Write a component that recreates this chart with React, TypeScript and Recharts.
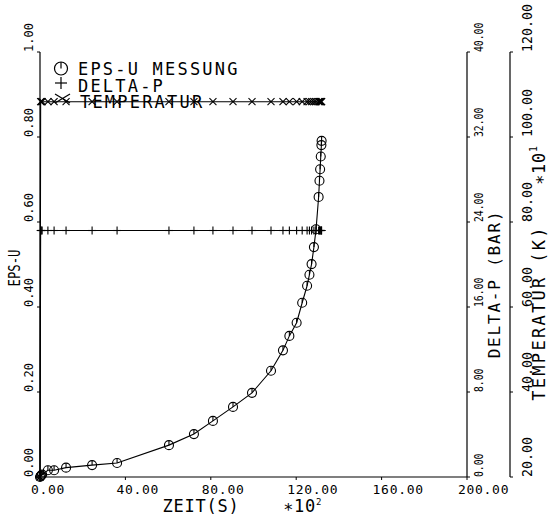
import React from 'react';
import { LineChart, Line, XAxis, YAxis } from 'recharts';

// Messzeitpunkte (x 10^2 s) und die drei Messreihen
const zeit = [0, 0.3, 0.6, 1.0, 3.7, 6.6, 12.2, 24.4, 36.1, 60.4, 72.1, 81.0, 90.4, 99.3, 108.2, 113.8, 116.8, 120.2, 122.8, 125.1, 126.2, 127.2, 128.3, 129.3, 130.5, 130.9, 131.2, 131.5, 131.8, 131.9];
const epsU = [0, 0.002, 0.004, 0.006, 0.016, 0.016, 0.022, 0.028, 0.033, 0.075, 0.101, 0.132, 0.165, 0.198, 0.25, 0.298, 0.332, 0.363, 0.41, 0.45, 0.476, 0.501, 0.541, 0.583, 0.659, 0.697, 0.724, 0.754, 0.781, 0.791];
const deltaP = [0, 23.2, 23.2, 23.2, 23.2, 23.2, 23.2, 23.2, 23.2, 23.2, 23.2, 23.2, 23.2, 23.2, 23.2, 23.2, 23.2, 23.2, 23.2, 23.2, 23.2, 23.2, 23.2, 23.2, 23.2, 23.2, 23.2, 23.2, 23.2, 23.2];
const temperatur = [20, 108.3, 108.3, 108.3, 108.3, 108.3, 108.3, 108.3, 108.3, 108.3, 108.3, 108.3, 108.3, 108.3, 108.3, 108.3, 108.3, 108.3, 108.3, 108.3, 108.3, 108.3, 108.3, 108.3, 108.3, 108.3, 108.3, 108.3, 108.3, 108.3];

const zeitTicks = [0, 40, 80, 120, 160, 200];
const epsTicks = [0, 0.2, 0.4, 0.6, 0.8, 1.0];
const dpTicks = [0, 8, 16, 24, 32, 40];
const tempTicks = [20, 40, 60, 80, 100, 120];

const data = zeit.map((t, i) => ({
  t,
  eps: epsU[i],
  dp: deltaP[i],
  temp: temperatur[i],
}));

const FONT = '"DejaVu Sans Mono", monospace';
const INK = '#000';

// Marker im Plotterstil
const Kreis = (p: any) => {
  if (p.cx == null || p.cy == null) return null;
  return (
    <g key={`k${p.index}`}>
      <circle cx={p.cx} cy={p.cy} r={4.5} fill="none" stroke={INK} strokeWidth={1.1} />
      <line x1={p.cx} y1={p.cy - 4.5} x2={p.cx} y2={p.cy} stroke={INK} strokeWidth={1.1} />
    </g>
  );
};

const Plus = (p: any) => {
  if (p.cx == null || p.cy == null) return null;
  return (
    <g key={`p${p.index}`} stroke={INK} strokeWidth={1.1}>
      <line x1={p.cx - 4} y1={p.cy} x2={p.cx + 4} y2={p.cy} />
      <line x1={p.cx} y1={p.cy - 4} x2={p.cx} y2={p.cy + 4} />
    </g>
  );
};

const Kreuz = (p: any) => {
  if (p.cx == null || p.cy == null) return null;
  return (
    <g key={`x${p.index}`} stroke={INK} strokeWidth={1.1}>
      <line x1={p.cx - 3.5} y1={p.cy - 3.5} x2={p.cx + 3.5} y2={p.cy + 3.5} />
      <line x1={p.cx - 3.5} y1={p.cy + 3.5} x2={p.cx + 3.5} y2={p.cy - 3.5} />
    </g>
  );
};

// senkrechte Beschriftung, von unten nach oben zu lesen
const VText = ({ x, y, size, squeeze = 1, spacing = 0, anchor = 'start', children }: any) => (
  <text
    transform={`translate(${x},${y}) rotate(-90) scale(${squeeze},1)`}
    fontFamily={FONT}
    fontSize={size}
    letterSpacing={spacing}
    textAnchor={anchor}
    fill={INK}
  >
    {children}
  </text>
);

const EpsTick = ({ x, y, payload }: any) => (
  <VText x={x - 2} y={y} size={12}>{payload.value.toFixed(2)}</VText>
);

const DpTick = ({ x, y, payload }: any) => (
  <VText x={x + 11} y={y} size={13} squeeze={0.75}>{payload.value.toFixed(2)}</VText>
);

const TempTick = ({ x, y, payload }: any) => (
  <VText x={x + 17} y={y} size={14} squeeze={0.95}>{payload.value.toFixed(2)}</VText>
);

const ZeitTick = ({ x, y, payload }: any) => (
  <text x={x - 9} y={y + 12} fontFamily={FONT} fontSize={13} letterSpacing={0.7} fill={INK}>
    {payload.value.toFixed(2)}
  </text>
);

const Beschriftung = () => (
  <g>
    {/* Legende */}
    <circle cx={61} cy={68.5} r={6.5} fill="none" stroke={INK} strokeWidth={1.2} />
    <line x1={61} y1={62} x2={61} y2={68.5} stroke={INK} strokeWidth={1.2} />
    <text x={78} y={75} fontFamily={FONT} fontSize={17} letterSpacing={2.2} fill={INK}>EPS-U MESSUNG</text>
    <g stroke={INK} strokeWidth={1.2}>
      <line x1={55} y1={83} x2={67} y2={83} />
      <line x1={61} y1={77} x2={61} y2={89} />
      <line x1={55} y1={94} x2={70} y2={103} />
      <line x1={55} y1={103} x2={70} y2={94} />
    </g>
    <text x={78} y={91.5} fontFamily={FONT} fontSize={17} letterSpacing={2.2} fill={INK}>DELTA-P</text>
    <text x={80} y={108} fontFamily={FONT} fontSize={17} letterSpacing={2.2} fill={INK}>TEMPERATUR</text>

    {/* Achsentitel */}
    <VText x={20} y={268} size={16} squeeze={0.77} anchor="middle">EPS-U</VText>
    <text x={201} y={512} fontFamily={FONT} fontSize={17} letterSpacing={0.8} textAnchor="middle" fill={INK}>ZEIT(S)</text>
    <text x={283} y={512} fontFamily={FONT} fontSize={17} letterSpacing={0.8} fill={INK}>
      ∗10<tspan dy={-7} fontSize={9}>2</tspan>
    </text>
    <VText x={500} y={284} size={16} spacing={1.8} anchor="middle">DELTA-P (BAR)</VText>
    <VText x={545} y={313} size={17} spacing={2.3} anchor="middle">TEMPERATUR (K)</VText>
    <VText x={545} y={185} size={17} spacing={0.8}>
      ∗10<tspan dy={-8} fontSize={10}>1</tspan>
    </VText>
  </g>
);

export default function App() {
  return (
    <div style={{ position: 'absolute', left: 0, top: 0, background: '#fff' }}>
      <LineChart width={548} height={523} data={data} margin={{ top: 52, right: 0, bottom: 0, left: 0 }}>
        <XAxis
          dataKey="t"
          type="number"
          domain={[0, 200]}
          ticks={zeitTicks}
          height={46}
          axisLine={{ stroke: INK, strokeWidth: 1.2 }}
          tickLine={{ stroke: INK }}
          tickSize={3}
          tick={<ZeitTick />}
          interval={0}
        />
        <YAxis
          yAxisId="eps"
          domain={[0, 1]}
          ticks={epsTicks}
          width={40}
          axisLine={{ stroke: INK, strokeWidth: 1.2 }}
          tickLine={{ stroke: INK }}
          tickSize={3}
          tick={<EpsTick />}
          interval={0}
        />
        <YAxis
          yAxisId="dp"
          orientation="right"
          domain={[0, 40]}
          ticks={dpTicks}
          width={43}
          axisLine={{ stroke: INK, strokeWidth: 1.2 }}
          tickLine={{ stroke: INK }}
          tickSize={3}
          tick={<DpTick />}
          interval={0}
        />
        <YAxis
          yAxisId="temp"
          orientation="right"
          domain={[20, 120]}
          ticks={tempTicks}
          width={38}
          axisLine={{ stroke: INK, strokeWidth: 1.2 }}
          tickLine={{ stroke: INK }}
          tickSize={3}
          tick={<TempTick />}
          interval={0}
        />
        <Line yAxisId="temp" dataKey="temp" type="linear" stroke={INK} strokeWidth={1.1} dot={Kreuz} isAnimationActive={false} />
        <Line yAxisId="dp" dataKey="dp" type="linear" stroke={INK} strokeWidth={1.1} dot={Plus} isAnimationActive={false} />
        <Line yAxisId="eps" dataKey="eps" type="linear" stroke={INK} strokeWidth={1.1} dot={Kreis} isAnimationActive={false} />
        <Beschriftung />
      </LineChart>
    </div>
  );
}
